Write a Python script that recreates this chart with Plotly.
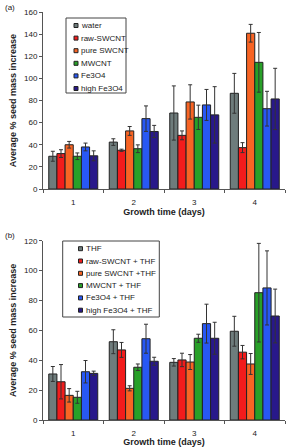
import plotly.graph_objects as go

days = ["1", "2", "3", "4"]

# Panel (a)
names_a = ["water", "raw-SWCNT", "pure SWCNT", "MWCNT", "Fe3O4", "high Fe3O4"]
vals_a = [
    [29.6, 42.4, 68.7, 86.5],
    [32.0, 35.0, 48.5, 37.4],
    [40.0, 52.5, 78.7, 140.8],
    [29.6, 36.4, 64.8, 114.5],
    [38.0, 63.6, 76.0, 72.6],
    [30.0, 52.0, 67.0, 81.4],
]
errs_a = [
    [4.5, 3.0, 24.5, 18.0],
    [3.5, 1.0, 4.0, 4.5],
    [3.0, 4.0, 15.5, 8.0],
    [3.0, 3.5, 11.0, 27.0],
    [3.5, 11.5, 14.0, 15.7],
    [4.5, 5.5, 25.5, 27.7],
]

# Panel (b)
names_b = ["THF", "raw-SWCNT + THF", "pure SWCNT +THF", "MWCNT + THF", "Fe3O4 + THF", "high Fe3O4 + THF"]
vals_b = [
    [30.8, 52.4, 38.6, 59.4],
    [25.6, 46.9, 40.2, 45.4],
    [16.5, 21.2, 38.8, 37.5],
    [15.2, 35.3, 54.7, 85.2],
    [32.3, 54.4, 64.5, 88.4],
    [31.2, 39.3, 54.7, 69.6],
]
errs_b = [
    [5.0, 8.0, 2.5, 10.0],
    [11.5, 5.0, 4.5, 4.5],
    [4.5, 1.7, 5.0, 7.0],
    [4.0, 2.2, 2.7, 33.0],
    [7.5, 9.7, 13.0, 24.8],
    [1.5, 2.7, 10.7, 18.0],
]

colors = ["#6e7c7c", "#f21c1c", "#f86424", "#28a028", "#2858f4", "#28188a"]

FONT = "Liberation Sans, Arial, sans-serif"

W, H = 289, 447
ML, MR, MT, MB = 43, 4, 12, 27
PW = W - ML - MR
PH = H - MT - MB


def px(x):
    return (x - ML) / PW


def py(y):
    return (H - MB - y) / PH


fig = go.Figure()
for i in range(6):
    fig.add_trace(go.Bar(
        x=days, y=vals_a[i], name=names_a[i], showlegend=False,
        marker=dict(color=colors[i], line=dict(color="#222", width=1)),
        error_y=dict(type="data", array=errs_a[i], visible=True, color="#333", thickness=1, width=2),
        xaxis="x", yaxis="y",
    ))
for i in range(6):
    fig.add_trace(go.Bar(
        x=days, y=vals_b[i], name=names_b[i], showlegend=False,
        marker=dict(color=colors[i], line=dict(color="#222", width=1)),
        error_y=dict(type="data", array=errs_b[i], visible=True, color="#333", thickness=1, width=2),
        xaxis="x2", yaxis="y2",
    ))

axis_common = dict(showgrid=False, showline=True, linecolor="#555", linewidth=1,
                   ticks="outside", ticklen=3, tickcolor="#555", automargin=False,
                   tickfont=dict(size=8, color="#222", family=FONT))

xtitle = dict(text="<b>Growth time (days)</b>", font=dict(size=9), standoff=0)
ytitle = dict(text="<b>Average % seed mass increase</b>", font=dict(size=9), standoff=5)

fig.update_layout(
    width=W, height=H,
    margin=dict(l=ML, r=MR, t=MT, b=MB),
    paper_bgcolor="white", plot_bgcolor="white",
    barmode="group", bargap=0.19, bargroupgap=0,
    showlegend=False,
    font=dict(family=FONT, size=8, color="#222"),
    xaxis=dict(domain=[0, 1], anchor="y", tickson="boundaries", ticklabelstandoff=5,
               title=xtitle, **axis_common),
    yaxis=dict(domain=[py(189), 1], anchor="x", range=[0, 160], dtick=20,
               title=ytitle, **axis_common),
    xaxis2=dict(domain=[0, 1], anchor="y2", tickson="boundaries", ticklabelstandoff=5,
                title=xtitle, **axis_common),
    yaxis2=dict(domain=[0, py(240.7)], anchor="x2", range=[0, 120], dtick=20,
                title=ytitle, **axis_common),
)

# Panel labels
fig.add_annotation(text="(a)", xref="paper", yref="paper", x=px(3), y=py(7),
                   xanchor="left", yanchor="middle", showarrow=False, font=dict(size=8))
fig.add_annotation(text="(b)", xref="paper", yref="paper", x=px(3), y=py(235),
                   xanchor="left", yanchor="middle", showarrow=False, font=dict(size=8))


def draw_legend(names, box, first_y, step, sq_x, fsize):
    x0, y0, x1, y1 = box
    fig.add_shape(type="rect", xref="paper", yref="paper",
                  x0=px(x0), x1=px(x1), y0=py(y1), y1=py(y0),
                  line=dict(color="#444", width=1), fillcolor="white", layer="above")
    for i, name in enumerate(names):
        yc = first_y + i * step
        fig.add_shape(type="rect", xref="paper", yref="paper",
                      x0=px(sq_x), x1=px(sq_x + 4), y0=py(yc + 2), y1=py(yc - 2),
                      line=dict(color="#222", width=1), fillcolor=colors[i], layer="above")
        fig.add_annotation(text=name, xref="paper", yref="paper", x=px(sq_x + 5), y=py(yc),
                           xanchor="left", yanchor="middle", showarrow=False,
                           font=dict(size=fsize, color="#222"))


draw_legend(names_a, (66, 18, 126, 93), 25.5, 12.6, 74, 8)
draw_legend(names_b, (62.7, 241, 159.3, 317), 248.7, 12.3, 78.5, 8)

fig.write_html("out.html", config={"displayModeBar": False},
               post_script="document.body.style.margin='0';document.body.style.overflow='hidden';")
